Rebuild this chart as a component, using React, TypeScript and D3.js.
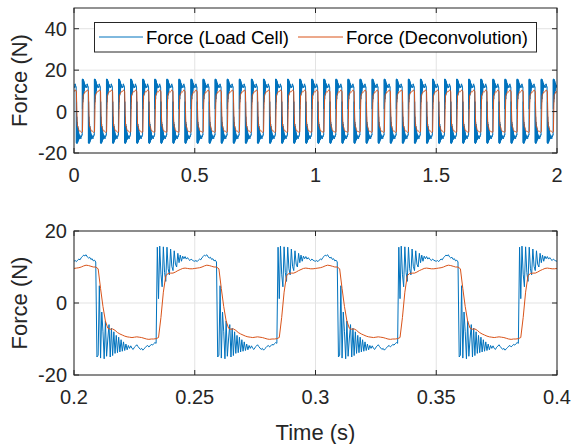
import React from "react";
import * as d3 from "d3";

// One measured 50 ms cycle of each signal (phase 0 = t mod 0.05 s)
const periodMs = 50;
const blueStepMs = 0.5;
const redStepMs = 1;

const cycleBlue = [
  11.6, 11.8, 11.5, 11.9, 12.2, 12.0, 12.6, 12.9, 13.3, 13.1,
  13.4, 12.8, 12.5, 12.7, 12.1, 12.3, 11.7, 11.9, 11.4, -15.0,
  -14.5, 4.8, -15.3, -2.5, -8.0, -15.5, -5.0, -14.8, -10.0, -6.0,
  -15.0, -7.0, -14.6, -8.0, -14.0, -9.0, -13.8, -9.5, -13.6, -10.2,
  -13.4, -10.8, -13.2, -11.4, -13.0, -11.8, -12.6, -11.9, -12.6, -12.9,
  -12.3, -12.0, -11.6, -12.1, -12.5, -12.9, -12.6, -13.1, -12.7, -12.4,
  -12.0, -11.8, -12.2, -11.9, -11.5, -11.7, -11.3, -11.0, -11.2, 15.5,
  1.2, 15.8, 8.0, 4.5, 15.6, 8.5, 6.0, 15.5, 9.5, 7.8,
  15.0, 10.2, 9.0, 14.5, 10.8, 10.0, 13.8, 11.2, 13.3, 11.6,
  13.0, 12.3, 12.9, 12.2, 12.6, 12.1, 11.8, 12.2, 11.9, 11.7,
];

const cycleRed = [
  9.6, 9.7, 9.8, 10.0, 10.3, 10.5, 10.4, 10.2, 10.0, 10.0,
  9.5, 4.0, -1.0, -5.0, -7.0, -7.3, -7.2, -7.6, -8.2, -8.6,
  -8.9, -9.2, -9.4, -9.5, -9.6, -9.5, -9.4, -9.5, -9.6, -9.8,
  -10.0, -10.1, -10.0, -10.0, -9.9, -9.6, -4.0, 3.0, 7.6, 8.2,
  8.3, 8.3, 8.6, 9.0, 9.3, 9.6, 9.7, 9.6, 9.5, 9.5,
];

const topXTicks = [0, 0.5, 1, 1.5, 2];
const topYTicks = [-20, 0, 20, 40];
const botXTicks = [0.2, 0.25, 0.3, 0.35, 0.4];
const botYTicks = [-20, 0, 20];
const legendLabels = ["Force (Load Cell)", "Force (Deconvolution)"];
const yLabel = "Force (N)";
const xLabel = "Time (s)";

const BLUE = "#0072BD";
const RED = "#D95319";
const AX = "#262626";
const GRID = "#e3e3e3";
const FONT = "'Liberation Sans', Arial, Helvetica, sans-serif";

function tile(cycle: number[], stepMs: number, startS: number, endS: number) {
  const pts: [number, number][] = [];
  const c0 = Math.floor((startS * 1000) / periodMs) - 1;
  const c1 = Math.ceil((endS * 1000) / periodMs) + 1;
  for (let c = c0; c <= c1; c++) {
    for (let i = 0; i < cycle.length; i++) {
      const t = (c * periodMs + i * stepMs) / 1000;
      if (t >= startS - 0.002 && t <= endS + 0.002) pts.push([t, cycle[i]]);
    }
  }
  return pts;
}

type PanelProps = {
  id: string;
  x0: number; x1: number; y0: number; y1: number;
  xDomain: [number, number]; yDomain: [number, number];
  xTicks: number[]; yTicks: number[];
  showXLabel: boolean; legend: boolean;
};

function Panel(p: PanelProps) {
  const x = d3.scaleLinear().domain(p.xDomain).range([p.x0, p.x1]);
  const y = d3.scaleLinear().domain(p.yDomain).range([p.y1, p.y0]);
  const blue = tile(cycleBlue, blueStepMs, p.xDomain[0], p.xDomain[1]);
  const red = tile(cycleRed, redStepMs, p.xDomain[0], p.xDomain[1]);
  const line = d3.line<[number, number]>().x((d) => x(d[0])).y((d) => y(d[1]));
  const tl = 5;
  const cy = (p.y0 + p.y1) / 2;
  return (
    <g>
      <defs>
        <clipPath id={p.id}>
          <rect x={p.x0} y={p.y0} width={p.x1 - p.x0} height={p.y1 - p.y0} />
        </clipPath>
      </defs>
      <rect x={p.x0} y={p.y0} width={p.x1 - p.x0} height={p.y1 - p.y0} fill="#fff" />
      {p.xTicks.map((t) => (
        <line key={"gx" + t} x1={x(t)} x2={x(t)} y1={p.y0} y2={p.y1} stroke={GRID} strokeWidth={1} />
      ))}
      {p.yTicks.map((t) => (
        <line key={"gy" + t} x1={p.x0} x2={p.x1} y1={y(t)} y2={y(t)} stroke={GRID} strokeWidth={1} />
      ))}
      <g clipPath={`url(#${p.id})`}>
        <path d={line(blue) || ""} fill="none" stroke={BLUE} strokeWidth={1} />
        <path d={line(red) || ""} fill="none" stroke={RED} strokeWidth={1} />
      </g>
      {p.xTicks.map((t) => (
        <g key={"tx" + t}>
          <line x1={x(t)} x2={x(t)} y1={p.y1} y2={p.y1 - tl} stroke={AX} />
          <line x1={x(t)} x2={x(t)} y1={p.y0} y2={p.y0 + tl} stroke={AX} />
          <text x={x(t)} y={p.y1 + 29} textAnchor="middle" fontSize={20} fill={AX} fontFamily={FONT}>
            {String(t)}
          </text>
        </g>
      ))}
      {p.yTicks.map((t) => (
        <g key={"ty" + t}>
          <line x1={p.x0} x2={p.x0 + tl} y1={y(t)} y2={y(t)} stroke={AX} />
          <line x1={p.x1} x2={p.x1 - tl} y1={y(t)} y2={y(t)} stroke={AX} />
          <text x={p.x0 - 7} y={y(t) + 7} textAnchor="end" fontSize={20} fill={AX} fontFamily={FONT}>
            {String(t)}
          </text>
        </g>
      ))}
      <rect x={p.x0} y={p.y0} width={p.x1 - p.x0} height={p.y1 - p.y0} fill="none" stroke={AX} strokeWidth={1} />
      <text
        transform={`translate(27,${cy}) rotate(-90)`}
        textAnchor="middle"
        fontSize={22}
        fill={AX}
        fontFamily={FONT}
      >
        {yLabel}
      </text>
      {p.showXLabel && (
        <text x={(p.x0 + p.x1) / 2} y={440} textAnchor="middle" fontSize={22} fill={AX} fontFamily={FONT}>
          {xLabel}
        </text>
      )}
      {p.legend && (
        <g>
          <rect x={94.5} y={22.5} width={442} height={29.5} fill="#fff" stroke={AX} strokeWidth={1} />
          <line x1={99} x2={143} y1={37} y2={37} stroke={BLUE} strokeWidth={1} />
          <text x={146} y={44} fontSize={18.5} fill="#000" fontFamily={FONT}>{legendLabels[0]}</text>
          <line x1={298} x2={343} y1={37} y2={37} stroke={RED} strokeWidth={1} />
          <text x={346} y={44} fontSize={18.5} fill="#000" fontFamily={FONT}>{legendLabels[1]}</text>
        </g>
      )}
    </g>
  );
}

export default function App() {
  return (
    <svg
      width={572}
      height={444}
      style={{ position: "fixed", left: 0, top: 0, background: "#fff" }}
    >
      <rect x={0} y={0} width={572} height={444} fill="#fff" />
      <Panel id="clipTop" x0={74} x1={557} y0={8} y1={153}
        xDomain={[0, 2]} yDomain={[-20, 50]} xTicks={topXTicks} yTicks={topYTicks}
        showXLabel={false} legend={true} />
      <Panel id="clipBot" x0={74} x1={557} y0={231} y1={375}
        xDomain={[0.2, 0.4]} yDomain={[-20, 20]} xTicks={botXTicks} yTicks={botYTicks}
        showXLabel={true} legend={false} />
    </svg>
  );
}
